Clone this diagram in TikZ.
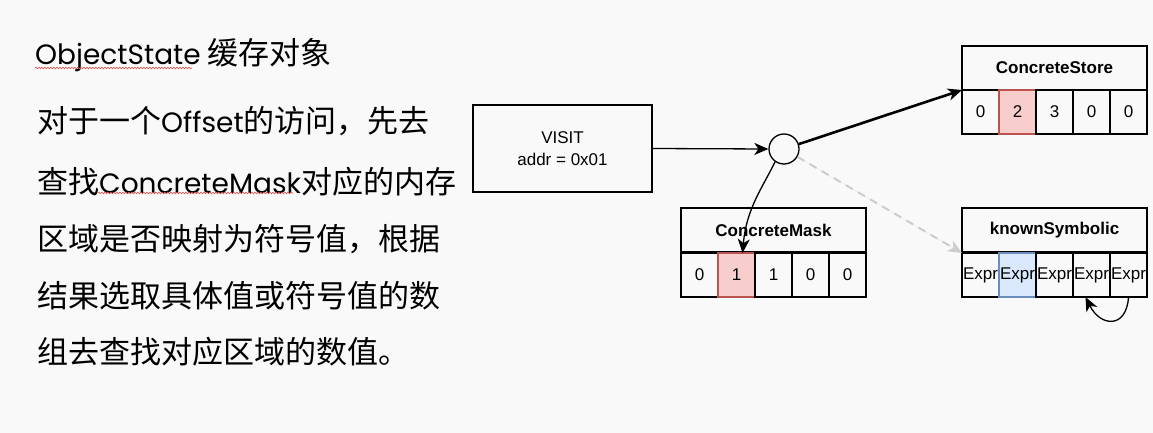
\documentclass[tikz,border=0pt]{standalone}
\usepackage{fontspec}
\setmainfont{Liberation Sans}
\newfontfamily\cjk{Noto Sans CJK SC}
\newfontfamily\lat{Poppins}
\usetikzlibrary{arrows.meta,decorations.pathmorphing}
\definecolor{bg}{HTML}{F9F9F9}
\definecolor{redfill}{HTML}{F8CECC}
\definecolor{redline}{HTML}{B85450}
\definecolor{bluefill}{HTML}{DAE8FC}
\definecolor{blueline}{HTML}{6C8EBF}
\definecolor{dgray}{HTML}{CCCCCC}
\definecolor{squig}{HTML}{E05050}
\newcommand\latw[1]{{\lat\fontsize{28}{28}\selectfont #1}}
\begin{document}
\begin{tikzpicture}[x=1pt,y=-1pt,
  box/.style={draw, line width=1.3pt, inner sep=0pt, outer sep=0pt, anchor=north west},
  hdr/.style={box, minimum width=185pt, minimum height=44pt, font=\fontsize{17}{20}\selectfont\bfseries},
  cell/.style={box, minimum width=37pt, minimum height=44pt, font=\fontsize{17}{20}\selectfont},
  redcell/.style={cell, fill=redfill, draw=redline},
  bluecell/.style={cell, fill=bluefill, draw=blueline},
  body/.style={anchor=base west, inner sep=0pt, font=\cjk\fontsize{31}{31}\selectfont},
  conn/.style={line width=1.3pt, -{Stealth[length=14pt,width=12pt,inset=4pt]}},
  squiggle/.style={squig, line width=0.6pt, decorate, decoration={snake, amplitude=0.8pt, segment length=3pt}}]
\fill[bg] (0,0) rectangle (1153,433);
% left text
\node[body] (title) at (35,65) {\latw{ObjectState} 缓存对象};
\node[body] (l1) at (37,132) {对于一个\latw{Offset}的访问，先去};
\node[body] (l2) at (37,193) {查找\latw{ConcreteMask}对应的内存};
\node[body] (l3) at (37,250) {区域是否映射为符号值，根据};
\node[body] (l4) at (37,307) {结果选取具体值或符号值的数};
\node[body] (l5) at (37,363) {组去查找对应区域的数值。};
\draw[squiggle] (35,68) -- (192,68);
\draw[squiggle] (98,193) -- (293,193);
% VISIT box
\node[draw, line width=1.3pt, minimum width=179pt, minimum height=87pt, align=center,
  font=\fontsize{17}{22}\selectfont] (visit) at (562.5,148.5) {VISIT\\addr = 0x01};
\node[draw, circle, line width=1.3pt, minimum size=30pt, inner sep=0pt] (circ) at (784,149) {};
% ConcreteStore
\node[hdr] (st) at (962,46) {ConcreteStore};
\node[cell] (s0) at (962,90) {0};
\node[redcell] (s1) at (999,90) {2};
\node[cell] (s2) at (1036,90) {3};
\node[cell] (s3) at (1073,90) {0};
\node[cell] (s4) at (1110,90) {0};
% ConcreteMask
\node[hdr] (mk) at (681,208) {ConcreteMask};
\node[cell] (m0) at (681,253) {0};
\node[redcell] (m1) at (718,253) {1};
\node[cell] (m2) at (755,253) {1};
\node[cell] (m3) at (792,253) {0};
\node[cell] (m4) at (829,253) {0};
% knownSymbolic
\node[hdr] (ks) at (962,208) {knownSymbolic};
\node[cell] (k0) at (962,253) {Expr};
\node[bluecell] (k1) at (999,253) {Expr};
\node[cell] (k2) at (1036,253) {Expr};
\node[cell] (k3) at (1073,253) {Expr};
\node[cell] (k4) at (1110,253) {Expr};
% connectors
\draw[conn] (visit.east) -- (circ.west);
\draw[conn, line width=2.6pt] (circ) -- (s0.north west);
\draw[conn] (circ.235) .. controls +(-12,25) and +(4,-45) .. ([xshift=6pt]m1.north);
\draw[conn, draw=dgray, fill=dgray, line width=2pt, dash pattern=on 8pt off 6pt] (circ) -- (k0.north west);
\draw[conn] (k4.south) .. controls +(-2,32) and +(15,30) .. ([xshift=-6pt]k3.south);
\end{tikzpicture}
\end{document}
